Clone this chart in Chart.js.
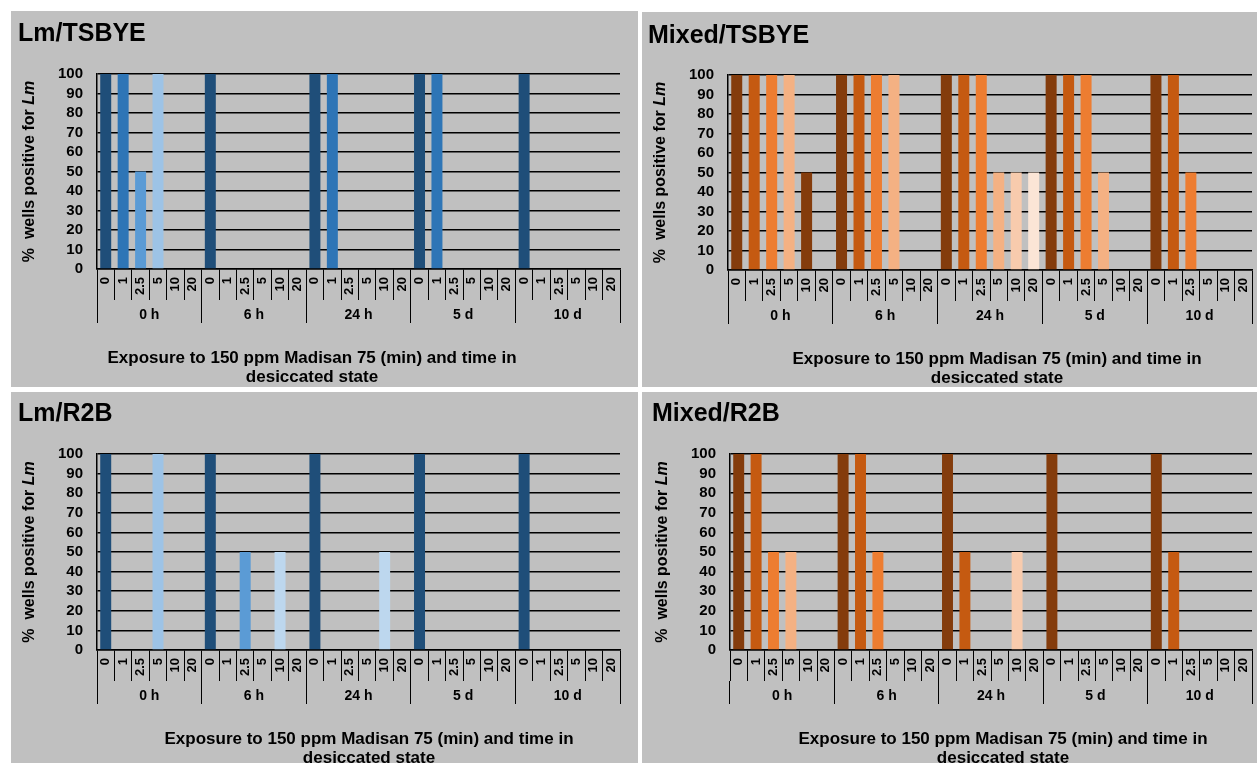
<!DOCTYPE html>
<html>
<head>
<meta charset="utf-8">
<script src="https://cdn.jsdelivr.net/npm/chart.js@4.4.1/dist/chart.umd.min.js"></script>
<style>
  html, body { margin: 0; padding: 0; background: #ffffff; }
  body { position: relative; width: 1257px; height: 763px; overflow: hidden; }
  .panel { position: absolute; background: #c0c0c0; }
  .panel canvas { display: block; }
</style>
</head>
<body>
<div class="panel" style="left:11px;top:11px;width:627px;height:376px"><canvas id="c1" width="627" height="376"></canvas></div>
<div class="panel" style="left:642px;top:12px;width:615px;height:375px"><canvas id="c2" width="615" height="375"></canvas></div>
<div class="panel" style="left:11px;top:392px;width:627px;height:371px"><canvas id="c3" width="627" height="371"></canvas></div>
<div class="panel" style="left:642px;top:392px;width:615px;height:371px"><canvas id="c4" width="615" height="371"></canvas></div>
<script>
// Time spent in the desiccated state (outer axis level)
const groups = ['0 h', '6 h', '24 h', '5 d', '10 d'];
// Minutes of exposure to 150 ppm Madisan 75 (inner axis level)
const exposures = ['0', '1', '2.5', '5', '10', '20'];

// % wells positive for Lm, one value per exposure within each time group
const lmTsbye = [
  100, 100, 50, 100, 0, 0,
  100, 0, 0, 0, 0, 0,
  100, 100, 0, 0, 0, 0,
  100, 100, 0, 0, 0, 0,
  100, 0, 0, 0, 0, 0
];
const mixedTsbye = [
  100, 100, 100, 100, 50, 0,
  100, 100, 100, 100, 0, 0,
  100, 100, 100, 50, 50, 50,
  100, 100, 100, 50, 0, 0,
  100, 100, 50, 0, 0, 0
];
const lmR2b = [
  100, 0, 0, 100, 0, 0,
  100, 0, 50, 0, 50, 0,
  100, 0, 0, 0, 50, 0,
  100, 0, 0, 0, 0, 0,
  100, 0, 0, 0, 0, 0
];
const mixedR2b = [
  100, 100, 50, 50, 0, 0,
  100, 100, 50, 0, 0, 0,
  100, 50, 0, 0, 50, 0,
  100, 0, 0, 0, 0, 0,
  100, 50, 0, 0, 0, 0
];

const categories = groups.flatMap(() => exposures);

// Shades by exposure time, darkest for 0 min
const bluePalette = ['#1f4e79', '#2e75b6', '#5b9bd5', '#9dc3e6', '#bdd7ee', '#deebf7'];
const orangePalette = ['#843c0c', '#c55a11', '#ed7d31', '#f4b183', '#f8cbad', '#fbe5d6'];

const FAMILY = "'Liberation Sans', Arial, Helvetica, sans-serif";
Chart.defaults.font.family = FAMILY;
Chart.defaults.color = '#000';

function barColors(palette, overrides) {
  return categories.map((_, i) => overrides[i] || palette[i % exposures.length]);
}

// Rotated y-axis title with the organism name in italics
const yTitlePlugin = {
  id: 'yTitle',
  afterDraw(chart, args, opts) {
    const { ctx, chartArea } = chart;
    const x = chartArea.left - opts.offset;
    const y = (chartArea.top + chartArea.bottom) / 2;
    const plain = `bold ${opts.size}px ${FAMILY}`;
    const ital = `italic bold ${opts.size}px ${FAMILY}`;
    ctx.save();
    ctx.translate(x, y);
    ctx.rotate(-Math.PI / 2);
    ctx.font = plain;
    const w1 = ctx.measureText(opts.text).width;
    ctx.font = ital;
    const w2 = ctx.measureText(opts.italic).width;
    const sx = -(w1 + w2) / 2;
    ctx.fillStyle = '#000';
    ctx.textBaseline = 'middle';
    ctx.textAlign = 'left';
    ctx.font = plain;
    ctx.fillText(opts.text, sx, 0);
    ctx.font = ital;
    ctx.fillText(opts.italic, sx + w1, 0);
    ctx.restore();
  }
};

// Two-line x-axis caption below the grouped category labels
const captionPlugin = {
  id: 'caption',
  afterDraw(chart, args, opts) {
    const { ctx, chartArea } = chart;
    ctx.save();
    ctx.font = `bold ${opts.size}px ${FAMILY}`;
    ctx.fillStyle = '#000';
    ctx.textAlign = 'center';
    ctx.textBaseline = 'alphabetic';
    opts.lines.forEach((line, i) => {
      ctx.fillText(line, opts.centerX, chartArea.bottom + opts.firstBaseline + i * opts.lineGap);
    });
    ctx.restore();
  }
};

function makeChart(id, cfg) {
  const titleSize = 25;
  const titleLine = titleSize * 1.2;
  return new Chart(document.getElementById(id), {
    type: 'bar',
    data: {
      labels: categories,
      datasets: [{
        data: cfg.values,
        backgroundColor: barColors(cfg.palette, cfg.overrides || {}),
        borderWidth: 0,
        categoryPercentage: 1,
        barPercentage: 0.63
      }]
    },
    options: {
      responsive: false,
      animation: false,
      devicePixelRatio: 1,
      layout: { padding: { left: cfg.padLeft, right: cfg.padRight, top: 0, bottom: cfg.padBottom } },
      plugins: {
        legend: { display: false },
        tooltip: { enabled: false },
        title: {
          display: true,
          text: cfg.title,
          align: 'start',
          color: '#000',
          font: { size: titleSize, weight: 'bold', lineHeight: 1.2 },
          padding: { top: cfg.titleTop, bottom: cfg.chartTop - cfg.titleTop - titleLine }
        },
        yTitle: { text: '%  wells positive for ', italic: 'Lm', size: 16, offset: 67 },
        caption: {
          lines: ['Exposure to 150 ppm Madisan 75 (min) and time in', 'desiccated state'],
          size: 17, centerX: cfg.captionX, firstBaseline: 94, lineGap: 19
        }
      },
      scales: {
        x: {
          type: 'category',
          position: 'bottom',
          weight: 0,
          offset: true,
          grid: { offset: true, drawOnChartArea: false, drawTicks: true, tickLength: 31, color: '#000', lineWidth: 1 },
          border: { display: true, color: '#000', width: 1.5 },
          ticks: {
            autoSkip: false, minRotation: 90, maxRotation: 90, padding: -23,
            color: '#000', font: { size: 13, weight: 'bold' }
          },
          afterFit: s => { s.height = 31; }
        },
        x2: {
          type: 'category',
          labels: groups,
          position: 'bottom',
          weight: 1,
          offset: true,
          grid: { offset: true, drawOnChartArea: false, drawTicks: true, tickLength: 23, color: '#000', lineWidth: 1 },
          border: { display: false },
          ticks: {
            autoSkip: false, minRotation: 0, maxRotation: 0, padding: -16,
            color: '#000', font: { size: 14, weight: 'bold' }
          },
          afterFit: s => { s.height = 60; }
        },
        y: {
          min: 0,
          max: 100,
          grid: { color: '#000', lineWidth: 1.5, drawTicks: false },
          border: { display: true, color: '#000', width: 1.5 },
          ticks: { stepSize: 10, autoSkip: false, padding: 14, color: '#000', font: { size: 15, weight: 'bold' } },
          afterFit: s => { s.width = cfg.chartLeft - cfg.padLeft; }
        }
      }
    },
    plugins: [yTitlePlugin, captionPlugin]
  });
}

makeChart('c1', {
  title: 'Lm/TSBYE', values: lmTsbye, palette: bluePalette,
  padLeft: 7, padRight: 18, padBottom: 27, chartLeft: 86, chartTop: 63, titleTop: 8, captionX: 301
});
makeChart('c2', {
  title: 'Mixed/TSBYE', values: mixedTsbye, palette: orangePalette, overrides: { 4: orangePalette[0] },
  padLeft: 6, padRight: 5, padBottom: 26, chartLeft: 86, chartTop: 63, titleTop: 9, captionX: 355
});
makeChart('c3', {
  title: 'Lm/R2B', values: lmR2b, palette: bluePalette,
  padLeft: 7, padRight: 18, padBottom: 22, chartLeft: 86, chartTop: 62, titleTop: 7, captionX: 358
});
makeChart('c4', {
  title: 'Mixed/R2B', values: mixedR2b, palette: orangePalette,
  padLeft: 10, padRight: 5, padBottom: 22, chartLeft: 88, chartTop: 62, titleTop: 7, captionX: 361
});
</script>
</body>
</html>
